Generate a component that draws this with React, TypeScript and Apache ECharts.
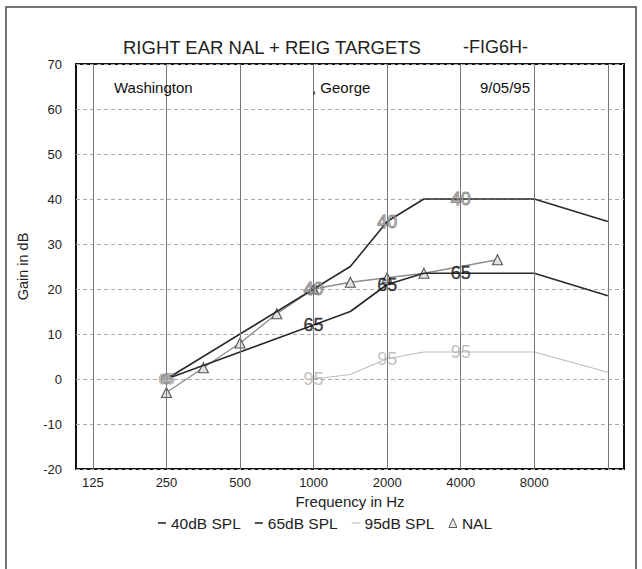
import React, { useEffect, useRef } from "react";
import * as echarts from "echarts";

// Frequencies (Hz) shown as tick labels and vertical grid lines
const tickFreqs = [125, 250, 500, 1000, 2000, 4000, 8000];
const gridFreqs = [125, 250, 500, 1000, 2000, 4000, 8000, 16000];

// 40 dB SPL target
const freqs40 = [250, 1000, 1414, 2000, 2828, 4000, 8000, 16000];
const gain40 = [0, 20, 25, 35, 40, 40, 40, 35];

// 65 dB SPL target
const freqs65 = [250, 1000, 1414, 2000, 2828, 4000, 8000, 16000];
const gain65 = [0, 12, 15, 21, 23.5, 23.5, 23.5, 18.5];

// 95 dB SPL target
const freqs95 = [1000, 1414, 2000, 2828, 4000, 8000, 16000];
const gain95 = [0, 1, 4.5, 6, 6, 6, 1.5];

// NAL target
const freqsNAL = [250, 354, 500, 707, 1000, 1414, 2000, 2828, 5657];
const gainNAL = [-3, 2.5, 8, 14.5, 20, 21.5, 22.5, 23.5, 26.5];

// Frequencies where the level numbers are printed on the curves
const labelFreqs = [1000, 2000, 4000];

const FONT = "'Liberation Sans', Arial, Helvetica, sans-serif";

const oct = (f: number) => Math.log2(f / 125);
const pairs = (fs: number[], vs: number[]) => fs.map((f, i) => [oct(f), vs[i]]);
const labelPoints = (fs: number[], vs: number[]) =>
  labelFreqs.map((lf) => {
    const i = fs.indexOf(lf);
    return [oct(lf), vs[i]];
  });

export default function App() {
  const ref = useRef<HTMLDivElement>(null);
  useEffect(() => {
    if (!ref.current) return;
    const chart = echarts.init(ref.current, null, { renderer: "svg" });

    const labelSeries = (
      name: string,
      pts: number[][],
      text: string,
      color: string,
      border: string,
      bw: number
    ) => ({
      name,
      type: "scatter",
      silent: true,
      z: 5,
      symbol: "circle",
      symbolSize: 1,
      itemStyle: { color: "rgba(0,0,0,0)" },
      data: pts,
      label: {
        show: true,
        position: "inside",
        formatter: text,
        fontSize: 18,
        fontFamily: FONT,
        color,
        textBorderColor: border,
        textBorderWidth: bw,
      },
    });

    const option: any = {
      animation: false,
      backgroundColor: "#fff",
      textStyle: { fontFamily: FONT },
      grid: {
        left: 76,
        right: 18,
        top: 64,
        bottom: 100,
        show: true,
        borderColor: "#111",
        borderWidth: 2,
        backgroundColor: "transparent",
      },
      xAxis: {
        type: "value",
        min: -0.23,
        max: 7.22,
        axisLine: { show: false },
        axisTick: { show: false },
        splitLine: { show: false },
        axisLabel: {
          customValues: tickFreqs.map(oct),
          formatter: (v: number) => String(Math.round(125 * Math.pow(2, v))),
          fontSize: 13,
          color: "#222",
          margin: 7,
          fontFamily: FONT,
        },
        name: "Frequency in Hz",
        nameLocation: "middle",
        nameGap: 22,
        nameTextStyle: { fontSize: 15, color: "#222", fontFamily: FONT },
      },
      yAxis: {
        type: "value",
        min: -20,
        max: 70,
        interval: 10,
        axisLine: { show: false },
        axisTick: { show: false },
        splitLine: {
          show: true,
          lineStyle: { color: "#aaa", width: 1, type: [4, 3] },
        },
        axisLabel: { fontSize: 13, color: "#222", margin: 14, fontFamily: FONT },
        name: "Gain in dB",
        nameLocation: "middle",
        nameGap: 46,
        nameTextStyle: { fontSize: 14.5, color: "#222", fontFamily: FONT },
      },
      legend: {
        left: 153,
        top: 510,
        itemGap: 14,
        itemWidth: 8,
        itemHeight: 9,
        textStyle: { fontSize: 15.5, color: "#222", fontFamily: FONT },
        data: [
          { name: "40dB SPL", icon: "path://M0,0L8,0L8,1.6L0,1.6Z" },
          { name: "65dB SPL", icon: "path://M0,0L8,0L8,1.6L0,1.6Z" },
          { name: "95dB SPL", icon: "path://M0,0L8,0L8,1.2L0,1.2Z" },
          {
            name: "NAL",
            icon: "triangle",
            itemStyle: { color: "#eee", borderColor: "#555", borderWidth: 1 },
          },
        ],
      },
      graphic: [
        {
          type: "rect",
          silent: true,
          shape: { x: 6, y: 7, width: 630, height: 600 },
          style: { fill: "none", stroke: "#444", lineWidth: 1.5 },
        },
        {
          type: "text",
          x: 123,
          y: 47,
          style: {
            text: "RIGHT EAR NAL + REIG TARGETS",
            fontSize: 18.5,
            fontFamily: FONT,
            fill: "#222",
            verticalAlign: "middle",
          },
        },
        {
          type: "text",
          x: 463,
          y: 47,
          style: {
            text: "-FIG6H-",
            fontSize: 18,
            fontFamily: FONT,
            fill: "#222",
            verticalAlign: "middle",
          },
        },
        {
          type: "text",
          x: 114,
          y: 87,
          z: 10,
          style: { text: "Washington", fontSize: 15, fontFamily: FONT, fill: "#111", verticalAlign: "middle" },
        },
        {
          type: "text",
          x: 312,
          y: 87,
          z: 10,
          style: { text: ", George", fontSize: 15, fontFamily: FONT, fill: "#111", verticalAlign: "middle" },
        },
        {
          type: "text",
          x: 480,
          y: 87,
          z: 10,
          style: { text: "9/05/95", fontSize: 15, fontFamily: FONT, fill: "#111", verticalAlign: "middle" },
        },
      ],
      series: [
        {
          name: "grid",
          type: "line",
          data: [],
          silent: true,
          z: 1,
          markLine: {
            silent: true,
            symbol: "none",
            label: { show: false },
            lineStyle: { color: "#777", width: 1, type: "solid" },
            data: gridFreqs.map((f) => ({ xAxis: oct(f) })),
          },
        },
        {
          name: "95dB SPL",
          type: "line",
          symbol: "none",
          z: 3,
          data: pairs(freqs95, gain95),
          lineStyle: { color: "#bdbdbd", width: 1.2 },
          itemStyle: { color: "#bdbdbd" },
        },
        {
          name: "NAL",
          type: "line",
          symbol: "triangle",
          symbolSize: 10,
          z: 3,
          data: pairs(freqsNAL, gainNAL),
          lineStyle: { color: "#8c8c8c", width: 1.3 },
          itemStyle: { color: "#e2e2e2", borderColor: "#555", borderWidth: 1.1 },
        },
        {
          name: "65dB SPL",
          type: "line",
          symbol: "none",
          z: 4,
          data: pairs(freqs65, gain65),
          lineStyle: { color: "#2a2a2a", width: 1.6 },
          itemStyle: { color: "#2a2a2a" },
        },
        {
          name: "40dB SPL",
          type: "line",
          symbol: "none",
          z: 4,
          data: pairs(freqs40, gain40),
          lineStyle: { color: "#2a2a2a", width: 1.6 },
          itemStyle: { color: "#2a2a2a" },
        },
        labelSeries("lbl95", labelPoints(freqs95, gain95), "95", "#b0b0b0", "#b0b0b0", 0),
        labelSeries("lbl40", labelPoints(freqs40, gain40), "40", "#aaa", "#444", 0.8),
        labelSeries("lbl65", labelPoints(freqs65, gain65), "65", "#111", "#111", 0.4),
        {
          name: "start",
          type: "scatter",
          silent: true,
          z: 6,
          symbol: "circle",
          symbolSize: 10,
          itemStyle: { color: "#bbb", borderColor: "#666", borderWidth: 1 },
          data: [[oct(freqs65[0]), gain65[0]]],
          label: {
            show: true,
            position: "inside",
            formatter: "65",
            fontSize: 14,
            fontFamily: FONT,
            color: "#ccc",
            textBorderColor: "#555",
            textBorderWidth: 0.8,
          },
        },
      ],
    };
    chart.setOption(option);
    return () => chart.dispose();
  }, []);

  return (
    <div
      ref={ref}
      style={{ position: "fixed", left: 0, top: 0, width: 642, height: 569, background: "#fff" }}
    />
  );
}
